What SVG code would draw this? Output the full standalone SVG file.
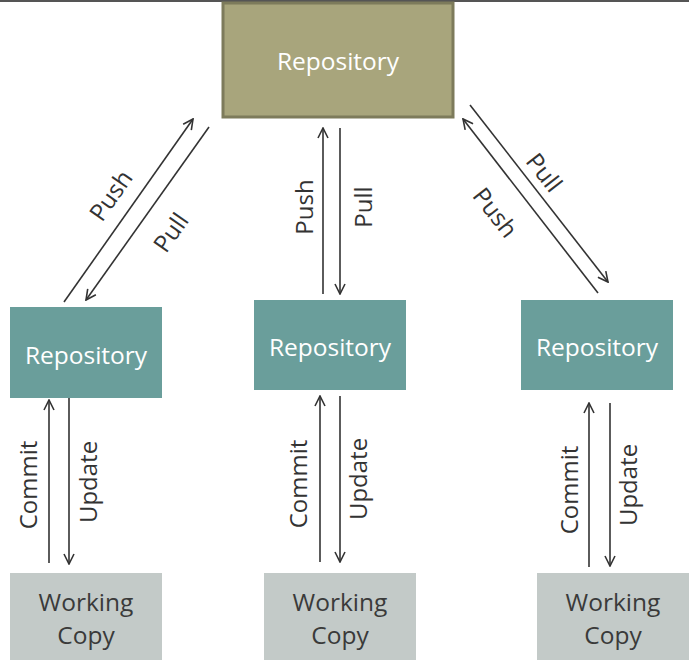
<svg xmlns="http://www.w3.org/2000/svg" width="689" height="667" viewBox="0 0 689 667">
<style>
text{font-family:"Open Sans","Liberation Sans",sans-serif;}
.lbl{font-size:24px;fill:#333;text-anchor:middle;dominant-baseline:central;}
.node{font-size:24.5px;text-anchor:middle;dominant-baseline:central;}
.top{fill:#a8a57c;stroke:#7d7b5b;stroke-width:3;}
.repo{fill:#6a9e9b;}
.wc{fill:#c3cac8;}
.w{fill:#fff;}
.d{fill:#3a3a3a;}
.c line{stroke:#333;stroke-width:1.6;marker-end:url(#ah);}
</style>
<defs>
<marker id="ah" viewBox="0 0 12 12" refX="11" refY="6" markerWidth="12" markerHeight="12" markerUnits="userSpaceOnUse" orient="auto">
<path d="M1,1 L11,6 L1,11" fill="none" stroke="#333" stroke-width="1.6"/>
</marker>
</defs>
<rect x="0" y="0" width="689" height="2" fill="#555"/>
<g id="repo-top"><rect class="top" x="223" y="3" width="230" height="114"/><text class="node w" x="338" y="60">Repository</text></g>
<g id="repo-left"><rect class="repo" x="10" y="307" width="152" height="91"/><text class="node w" x="86" y="354">Repository</text></g>
<g id="repo-mid"><rect class="repo" x="254" y="300" width="152" height="90"/><text class="node w" x="330" y="346">Repository</text></g>
<g id="repo-right"><rect class="repo" x="521" y="300" width="152" height="90"/><text class="node w" x="597" y="346">Repository</text></g>
<g id="wc-left"><rect class="wc" x="10" y="573" width="152" height="87"/><text class="node d" x="86" y="601">Working</text><text class="node d" x="86" y="634">Copy</text></g>
<g id="wc-mid"><rect class="wc" x="264" y="573" width="152" height="87"/><text class="node d" x="340" y="601">Working</text><text class="node d" x="340" y="634">Copy</text></g>
<g id="wc-right"><rect class="wc" x="537" y="573" width="152" height="87"/><text class="node d" x="613" y="601">Working</text><text class="node d" x="613" y="634">Copy</text></g>
<g id="connectors" class="c">
<line x1="64" y1="302" x2="193" y2="119"/>
<line x1="209" y1="127" x2="86" y2="300"/>
<line x1="323" y1="294" x2="323" y2="128"/>
<line x1="340" y1="128" x2="340" y2="294"/>
<line x1="470" y1="105" x2="608" y2="282"/>
<line x1="598" y1="293" x2="463" y2="119"/>
<line x1="49" y1="563" x2="49" y2="400"/>
<line x1="69" y1="398" x2="69" y2="564"/>
<line x1="320" y1="562" x2="320" y2="396"/>
<line x1="340" y1="396" x2="340" y2="562"/>
<line x1="589" y1="567" x2="589" y2="403"/>
<line x1="610" y1="403" x2="610" y2="566"/>
<text class="lbl" transform="translate(110,195) rotate(-55)">Push</text>
<text class="lbl" transform="translate(170,232) rotate(-55)">Pull</text>
<text class="lbl" transform="translate(303,207) rotate(-90)">Push</text>
<text class="lbl" transform="translate(362,207) rotate(-90)">Pull</text>
<text class="lbl" transform="translate(545,172) rotate(52)">Pull</text>
<text class="lbl" transform="translate(496,212) rotate(52)">Push</text>
<text class="lbl" transform="translate(27,485) rotate(-90)">Commit</text>
<text class="lbl" transform="translate(87,482) rotate(-90)">Update</text>
<text class="lbl" transform="translate(297,484) rotate(-90)">Commit</text>
<text class="lbl" transform="translate(357,479) rotate(-90)">Update</text>
<text class="lbl" transform="translate(568,490) rotate(-90)">Commit</text>
<text class="lbl" transform="translate(627,485) rotate(-90)">Update</text>
</g>
</svg>
